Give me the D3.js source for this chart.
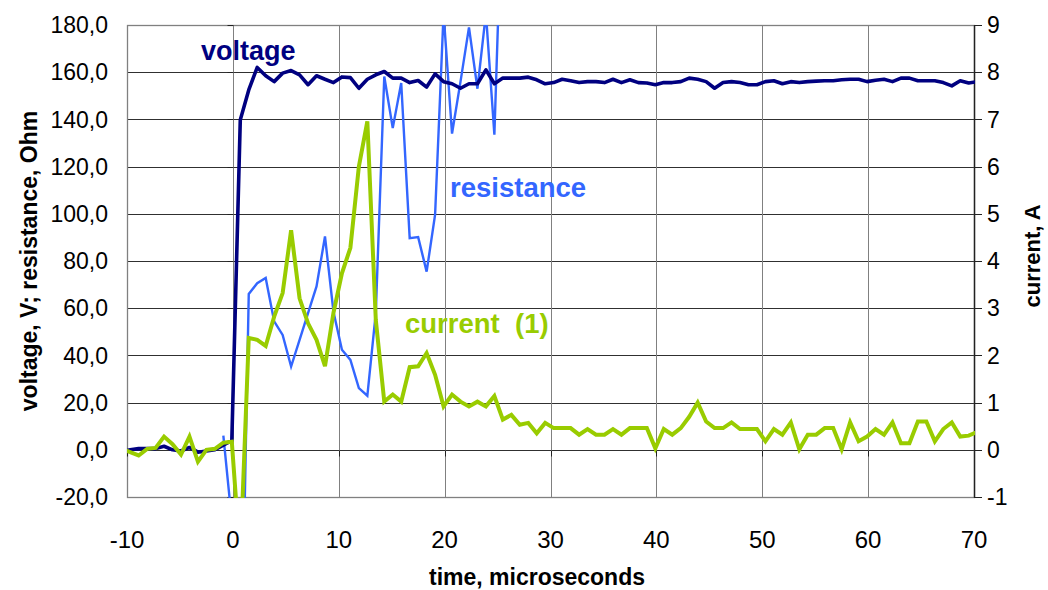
<!DOCTYPE html>
<html><head><meta charset="utf-8">
<script src="https://cdn.jsdelivr.net/npm/d3@7"></script>
<style>
body{margin:0;background:#fff;}
svg{display:block;}
text{font-family:"Liberation Sans",Arial,Helvetica,sans-serif;}
</style>
</head><body>
<svg id="chart" width="1048" height="590"></svg>
<script>
// ---- data ----
const time = [-10.5,-9.7,-8.9,-8.1,-7.3,-6.5,-5.7,-4.9,-4.1,-3.3,-2.5,-1.7,-0.9,-0.1,0.7,1.5,2.3,3.1,3.9,4.7,5.5,6.3,7.1,7.9,8.7,9.5,10.3,11.1,11.9,12.7,13.5,14.3,15.1,15.9,16.7,17.5,18.3,19.1,19.9,20.7,21.5,22.3,23.1,23.9,24.7,25.5,26.3,27.1,27.9,28.7,29.5,30.3,31.1,31.9,32.7,33.5,34.3,35.1,35.9,36.7,37.5,38.3,39.1,39.9,40.7,41.5,42.3,43.1,43.9,44.7,45.5,46.3,47.1,47.9,48.7,49.5,50.3,51.1,51.9,52.7,53.5,54.3,55.1,55.9,56.7,57.5,58.3,59.1,59.9,60.7,61.5,62.3,63.1,63.9,64.7,65.5,66.3,67.1,67.9,68.7,69.5,70.3];
const voltage = [-1.0,0.0,0.5,0.5,0.5,1.5,0.0,-0.5,1.0,-1.0,-0.5,0.0,2.0,4.0,139.8,152.5,162.0,158.5,156.0,159.6,160.7,158.9,154.7,158.5,157.0,155.6,158.0,157.7,153.2,157.0,158.9,160.3,157.5,157.5,155.6,156.5,153.7,159.3,156.0,155.1,153.2,155.1,155.1,161.0,155.1,157.5,157.5,157.5,157.9,156.8,155.1,155.6,157.0,156.4,155.6,156.0,156.0,155.6,157.0,155.6,156.8,155.6,155.4,154.7,155.6,155.6,156.0,157.5,157.0,156.0,153.2,155.6,156.0,155.6,154.7,154.7,156.0,156.4,155.1,156.0,155.6,156.0,156.2,156.4,156.4,156.8,157.0,157.0,156.0,156.6,157.0,156.0,157.5,157.5,156.4,156.4,156.4,155.6,154.2,156.4,155.4,156.0];
const current = [0.02,-0.05,-0.12,0.02,0.04,0.28,0.12,-0.10,0.28,-0.25,0.00,0.02,0.15,0.17,-2.3,2.37,2.33,2.20,2.82,3.32,4.65,3.21,2.68,2.33,1.77,2.90,3.74,4.28,6.00,6.96,2.75,1.02,1.17,1.02,1.75,1.77,2.05,1.59,0.92,1.17,1.02,0.92,1.02,0.92,1.14,0.64,0.74,0.53,0.57,0.35,0.57,0.46,0.46,0.46,0.32,0.44,0.32,0.32,0.44,0.32,0.46,0.46,0.46,0.03,0.44,0.32,0.46,0.70,1.00,0.60,0.46,0.46,0.58,0.44,0.44,0.44,0.18,0.44,0.32,0.58,0.01,0.32,0.32,0.46,0.46,0.01,0.58,0.18,0.28,0.44,0.32,0.58,0.14,0.14,0.60,0.60,0.18,0.44,0.58,0.28,0.30,0.38];
const resistanceTime = [-0.9,-0.1,0.7,1.5,2.3,3.1,3.9,4.7,5.5,6.3,7.1,7.9,8.7,9.5,10.3,11.1,11.9,12.7,13.5,14.3,15.1,15.9,16.7,17.5,18.3,19.1,19.9,20.7,21.5,22.3,23.1,23.9,24.7,25.5,26.3];
const resistance = [6,-30,-120,66,70.6,72.8,54.4,48.7,35.3,46.6,57.9,69.2,90.4,58.5,42.4,38.1,26.1,22.9,58,158.2,136.3,155.4,89.7,90.1,75.5,99.6,185,134,156,179,153,185,133.5,245,210];

const xTicks = [-10,0,10,20,30,40,50,60,70];
const xTickLabels = ["-10","0","10","20","30","40","50","60","70"];
const yLeftTicks = [-20,0,20,40,60,80,100,120,140,160,180];
const yLeftTickLabels = ["-20,0","0,0","20,0","40,0","60,0","80,0","100,0","120,0","140,0","160,0","180,0"];
const yRightTicks = [-1,0,1,2,3,4,5,6,7,8,9];
const yRightTickLabels = ["-1","0","1","2","3","4","5","6","7","8","9"];

const seriesLabels = {voltage:"voltage", resistance:"resistance", current:"current  (1)"};
const colors = {voltage:"#000080", resistance:"#3366FF", current:"#99CC00"};

// ---- layout ----
const L = 127, R = 974, T = 25, B = 497;
const svg = d3.select("#chart");
const x = d3.scaleLinear().domain([-10,70]).range([L,R]);
const yL = d3.scaleLinear().domain([-20,180]).range([B,T]);
const yR = d3.scaleLinear().domain([-1,9]).range([B,T]);

svg.append("rect").attr("width",1048).attr("height",590).attr("fill","#fff");

// gridlines
const grid = svg.append("g");
grid.selectAll(".hg").data(yLeftTicks).enter().append("line")
  .attr("x1",L).attr("x2",R).attr("y1",d=>Math.round(yL(d))+0.5).attr("y2",d=>Math.round(yL(d))+0.5)
  .attr("stroke",(d,i)=> (d===180||d===-20) ? "#808080" : "#303030").attr("stroke-width",1);
grid.selectAll(".vg").data(xTicks).enter().append("line")
  .attr("y1",T).attr("y2",B).attr("x1",d=>Math.round(x(d))+0.5).attr("x2",d=>Math.round(x(d))+0.5)
  .attr("stroke","#808080").attr("stroke-width",1);

// plot border
svg.append("rect").attr("x",L+0.5).attr("y",T+0.5).attr("width",R-L).attr("height",B-T)
  .attr("fill","none").attr("stroke","#808080").attr("stroke-width",1.3);

// crossing axes: value axis at x=0, category axis at y=0
const x0 = Math.round(x(0))+0.5, y0 = Math.round(yL(0))+0.5;
svg.append("g").selectAll("line").data(yLeftTicks).enter().append("line")
  .attr("x1",x0-6).attr("x2",x0).attr("y1",d=>Math.round(yL(d))+0.5).attr("y2",d=>Math.round(yL(d))+0.5)
  .attr("stroke","#222");
svg.append("g").selectAll("line").data(xTicks).enter().append("line")
  .attr("x1",d=>Math.round(x(d))+0.5).attr("x2",d=>Math.round(x(d))+0.5).attr("y1",y0).attr("y2",y0+6)
  .attr("stroke","#222");

// right axis
const ra = svg.append("g");
ra.append("line").attr("x1",R+0.5).attr("x2",R+0.5).attr("y1",T).attr("y2",B+1).attr("stroke","#222").attr("stroke-width",1.4);
ra.selectAll(".rt").data(yRightTicks).enter().append("line")
  .attr("x1",R).attr("x2",R+8).attr("y1",d=>Math.round(yR(d))+0.5).attr("y2",d=>Math.round(yR(d))+0.5)
  .attr("stroke","#222");

// tick labels
svg.append("g").selectAll("text").data(yLeftTicks).enter().append("text")
  .attr("x",108).attr("y",d=>yL(d)).attr("dy","0.36em").attr("text-anchor","end")
  .attr("font-size",23).attr("fill","#000").text((d,i)=>yLeftTickLabels[i]);
svg.append("g").selectAll("text").data(yRightTicks).enter().append("text")
  .attr("x",987).attr("y",d=>yR(d)).attr("dy","0.36em").attr("text-anchor","start")
  .attr("font-size",23).attr("fill","#000").text((d,i)=>yRightTickLabels[i]);
svg.append("g").selectAll("text").data(xTicks).enter().append("text")
  .attr("x",d=>x(d)).attr("y",548).attr("text-anchor","middle")
  .attr("font-size",24).attr("fill","#000").text((d,i)=>xTickLabels[i]);

// axis titles
svg.append("text").attr("x",537).attr("y",585).attr("text-anchor","middle")
  .attr("font-size",23).attr("font-weight","bold").text("time, microseconds");
svg.append("text").attr("transform","translate(37,261) rotate(-90)").attr("text-anchor","middle")
  .attr("font-size",23).attr("font-weight","bold").text("voltage, V; resistance, Ohm");
svg.append("text").attr("transform","translate(1040,256) rotate(-90)").attr("text-anchor","middle")
  .attr("font-size",22).attr("font-weight","bold").text("current, A");

// clip
svg.append("clipPath").attr("id","plotclip").append("rect")
  .attr("x",L).attr("y",T).attr("width",R-L+1).attr("height",B-T+1);
const plot = svg.append("g").attr("clip-path","url(#plotclip)");

const lineR = d3.line().x((d,i)=>x(resistanceTime[i])).y(d=>yL(d));
const lineV = d3.line().x((d,i)=>x(time[i])).y(d=>yL(d));
const lineI = d3.line().x((d,i)=>x(time[i])).y(d=>yR(d));

plot.append("path").datum(resistance).attr("d",lineR).attr("fill","none")
  .attr("stroke",colors.resistance).attr("stroke-width",2.4).attr("stroke-linejoin","miter");
plot.append("path").datum(voltage).attr("d",lineV).attr("fill","none")
  .attr("stroke",colors.voltage).attr("stroke-width",3.6).attr("stroke-linejoin","round");
plot.append("path").datum(current).attr("d",lineI).attr("fill","none")
  .attr("stroke",colors.current).attr("stroke-width",4).attr("stroke-linejoin","miter");

// series labels
svg.append("text").attr("x",201).attr("y",60).attr("font-size",27).attr("font-weight","bold")
  .attr("fill",colors.voltage).text(seriesLabels.voltage);
svg.append("text").attr("x",450).attr("y",197).attr("font-size",27.5).attr("font-weight","bold")
  .attr("fill",colors.resistance).text(seriesLabels.resistance);
svg.append("text").attr("x",405).attr("y",333).attr("font-size",27.5).attr("font-weight","bold")
  .attr("fill",colors.current).style("white-space","pre").text(seriesLabels.current);
</script>
</body></html>
